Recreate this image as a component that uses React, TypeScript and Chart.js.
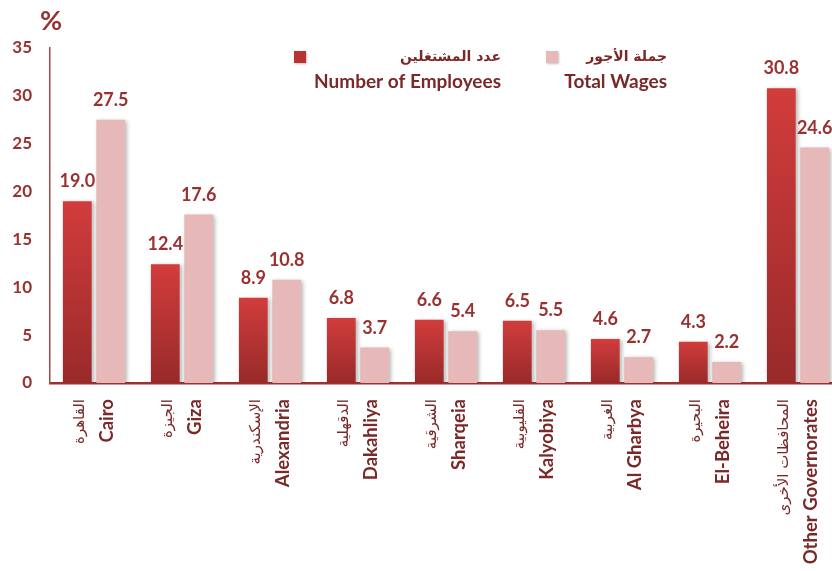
import React, { useEffect, useRef } from "react";
import { Chart, registerables } from "chart.js";

Chart.register(...registerables);

const categoriesAr = ["القاهرة", "الجيزة", "الإسكندرية", "الدقهلية", "الشرقية", "القليوبية", "الغربية", "البحيرة", "المحافظات الأخرى"];
const categoriesEn = ["Cairo", "Giza", "Alexandria", "Dakahliya", "Sharqeia", "Kalyobiya", "Al Gharbya", "El-Beheira", "Other Governorates"];
const employees = [19.0, 12.4, 8.9, 6.8, 6.6, 6.5, 4.6, 4.3, 30.8];
const wages = [27.5, 17.6, 10.8, 3.7, 5.4, 5.5, 2.7, 2.2, 24.6];
const yTicks = [0, 5, 10, 15, 20, 25, 30, 35];

const legendAr = ["عدد المشتغلين", "جملة الأجور"];
const legendEn = ["Number of Employees", "Total Wages"];

const RED = "#9b3030";
const TEXT = "#7a2828";
const LIGHT = "#e6b8b7";
const FONT = "Lato, 'Open Sans', sans-serif";
const AR_FONT = "'DejaVu Sans', 'Noto Sans', sans-serif";

export default function App() {
  const ref = useRef<HTMLCanvasElement | null>(null);
  useEffect(() => {
    const canvas = ref.current!;
    const darkGrad = (ctx: any) => {
      const chart = ctx.chart;
      if (!chart.chartArea || ctx.type !== "data") return "#b83232";
      const y = chart.scales.y;
      const top = y.getPixelForValue(ctx.raw);
      const bottom = y.getPixelForValue(0);
      const g = chart.ctx.createLinearGradient(0, top, 0, bottom);
      g.addColorStop(0, "#d23c3c");
      g.addColorStop(1, "#992a2a");
      return g;
    };

    const decor = {
      id: "decor",
      beforeDatasetsDraw(chart: any) {
        const c = chart.ctx;
        c.save();
        c.shadowColor = "rgba(0,0,0,0.28)";
        c.shadowBlur = 4;
        c.shadowOffsetX = 2;
        c.shadowOffsetY = 1;
      },
      afterDatasetsDraw(chart: any) {
        const c = chart.ctx;
        c.restore();
        c.save();
        // value labels
        c.fillStyle = RED;
        c.font = `bold 18px ${FONT}`;
        c.textAlign = "center";
        c.textBaseline = "alphabetic";
        chart.data.datasets.forEach((ds: any, di: number) => {
          const meta = chart.getDatasetMeta(di);
          meta.data.forEach((el: any, i: number) => {
            c.fillText(Number(ds.data[i]).toFixed(1), el.x, el.y - 14);
          });
        });
        // x category labels (rotated)
        const xs = chart.scales.x;
        const top = chart.chartArea.bottom + 16;
        categoriesEn.forEach((en, i) => {
          const cx = xs.getPixelForValue(i);
          c.save();
          c.translate(cx - 14, top);
          c.rotate(-Math.PI / 2);
          c.textAlign = "right";
          c.textBaseline = "middle";
          c.fillStyle = TEXT;
          c.font = `15px ${AR_FONT}`;
          c.fillText(categoriesAr[i], 0, 0);
          c.restore();
          c.save();
          c.translate(cx + 13, top);
          c.rotate(-Math.PI / 2);
          c.textAlign = "right";
          c.textBaseline = "middle";
          c.fillStyle = TEXT;
          c.font = `bold 18.5px ${FONT}`;
          c.fillText(en, 0, 0);
          c.restore();
        });
        // percent sign
        c.fillStyle = RED;
        c.font = `bold 27px ${FONT}`;
        c.textAlign = "left";
        c.textBaseline = "alphabetic";
        c.fillText("%", 40, 30);
        // legend
        const items = [
          { sq: 294, right: 501, color: "#b83232" },
          { sq: 546, right: 667, color: LIGHT },
        ];
        items.forEach((it, k) => {
          c.fillStyle = it.color;
          c.shadowColor = "rgba(0,0,0,0.25)";
          c.shadowBlur = 2;
          c.shadowOffsetX = 1;
          c.shadowOffsetY = 1;
          c.fillRect(it.sq, 51, 12, 12);
          c.shadowColor = "transparent";
          c.fillStyle = TEXT;
          c.textAlign = "right";
          c.textBaseline = "middle";
          c.font = `bold 14px ${AR_FONT}`;
          c.fillText(legendAr[k], it.right, 57);
          c.font = `bold 19px ${FONT}`;
          c.fillText(legendEn[k], it.right, 82);
        });
        c.restore();
      },
    };

    const chart = new Chart(canvas, {
      type: "bar",
      data: {
        labels: categoriesEn,
        datasets: [
          {
            label: legendEn[0],
            data: employees,
            backgroundColor: darkGrad,
            categoryPercentage: 0.76,
            barPercentage: 0.86,
          },
          {
            label: legendEn[1],
            data: wages,
            backgroundColor: LIGHT,
            categoryPercentage: 0.76,
            barPercentage: 0.86,
          },
        ],
      },
      options: {
        responsive: false,
        animation: false,
        devicePixelRatio: 1,
        layout: { padding: { left: 0, right: 8, top: 48, bottom: 188 } },
        plugins: { legend: { display: false }, tooltip: { enabled: false } },
        scales: {
          x: {
            grid: { display: false, drawTicks: false },
            ticks: { display: false },
            border: { color: RED, width: 2.5 },
            afterFit: (s: any) => {
              s.height = 0;
            },
          },
          y: {
            min: 0,
            max: 35,
            afterBuildTicks: (s: any) => {
              s.ticks = yTicks.map((v) => ({ value: v }));
            },
            grid: { display: false, drawTicks: false },
            border: { color: "#a84646", width: 1.5 },
            ticks: {
              color: RED,
              padding: 18,
              font: { family: FONT, size: 17, weight: "bold" },
            },
            afterFit: (s: any) => {
              s.width = 50;
            },
          },
        },
      },
      plugins: [decor],
    });
    return () => chart.destroy();
  }, []);

  return (
    <div style={{ position: "fixed", left: 0, top: 0, width: 832, height: 571, overflow: "hidden", background: "#fff" }}>
      <canvas ref={ref} width={850} height={571} style={{ display: "block", width: 850, height: 571 }} />
    </div>
  );
}
